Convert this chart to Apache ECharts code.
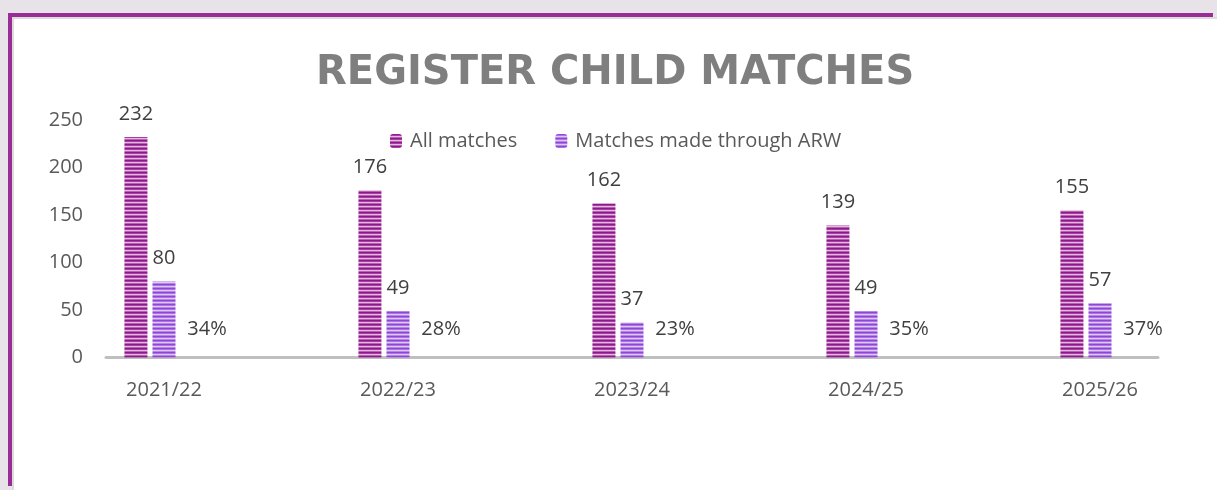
<!DOCTYPE html>
<html>
<head>
<meta charset="utf-8">
<script src="https://cdn.jsdelivr.net/npm/echarts@6/dist/echarts.min.js"></script>
<style>
  html, body { margin: 0; padding: 0; width: 1217px; height: 490px; overflow: hidden; background: #e8e3e9; }
  #frame { position: absolute; left: 8px; top: 13px; width: 1205px; height: 473px; background: #982d98; }
  #inner { position: absolute; left: 12px; top: 17px; width: 1205px; height: 473px; background: #ffffff; border-top: 2px solid #dcdcdc; border-left: 2px solid #dcdcdc; box-sizing: border-box; }
  #chart { position: absolute; left: 0; top: 0; width: 1217px; height: 490px; }
</style>
</head>
<body>
<div id="frame"></div>
<div id="inner"></div>
<div id="chart"></div>
<script>
const categories = ['2021/22', '2022/23', '2023/24', '2024/25', '2025/26'];
const allMatches = [232, 176, 162, 139, 155];
const arwMatches = [80, 49, 37, 49, 57];
const arwPercent = [34, 28, 23, 35, 37];
const yTicks = [0, 50, 100, 150, 200, 250];
const seriesNames = ['All matches', 'Matches made through ARW'];

function stripes(rows) {
  const c = document.createElement('canvas');
  c.width = 4; c.height = rows.length;
  const g = c.getContext('2d');
  rows.forEach((col, i) => { g.fillStyle = col; g.fillRect(0, i, 4, 1); });
  return c;
}
const magentaPattern = { image: stripes(['#8a1b8a', '#a73ea3', '#e4b9e0', '#b861b2']), repeat: 'repeat' };
const violetPattern = { image: stripes(['#8f47d3', '#aa74e4', '#dfc8f6', '#b586ea']), repeat: 'repeat' };

const FONT = 'Open Sans';
const yMax = yTicks[yTicks.length - 1];

const chart = echarts.init(document.getElementById('chart'), null, { renderer: 'canvas' });
chart.setOption({
  backgroundColor: 'transparent',
  animation: false,
  textStyle: { fontFamily: FONT },
  title: {
    text: 'REGISTER CHILD MATCHES',
    left: 311,
    top: 49,
    textStyle: { fontFamily: 'DejaVu Sans', fontWeight: 'bold', fontSize: 40, color: '#7f7f7f' }
  },
  legend: {
    data: seriesNames,
    left: 385,
    top: 126,
    itemWidth: 12,
    itemHeight: 14,
    itemGap: 38,
    textStyle: { fontFamily: FONT, fontSize: 20, color: '#595959', padding: [0, 0, 0, 3] }
  },
  grid: [
    { left: 47, right: 0, top: 120, bottom: 132.5 },
    { left: 106, right: 59, top: 120, bottom: 132.5 }
  ],
  xAxis: [
    {
      type: 'category', gridIndex: 0, data: categories,
      axisLine: { show: false }, axisTick: { show: false },
      axisLabel: { fontFamily: FONT, fontSize: 20, color: '#595959', margin: 23 }
    },
    {
      type: 'value', gridIndex: 1, min: 0, max: 1,
      axisLine: { show: true, onZero: false, lineStyle: { color: '#bfbfbf', width: 3 } },
      axisTick: { show: false }, axisLabel: { show: false }, splitLine: { show: false }
    }
  ],
  yAxis: [
    { type: 'value', gridIndex: 0, min: 0, max: yMax, interval: 50, show: false },
    {
      type: 'value', gridIndex: 1, min: 0, max: yMax, interval: 50,
      axisLine: { show: false }, axisTick: { show: false }, splitLine: { show: false },
      axisLabel: { fontFamily: FONT, fontSize: 20, color: '#595959', margin: 23 }
    },
    { type: 'value', gridIndex: 0, min: 0, max: 100000, show: false }
  ],
  series: [
    {
      name: seriesNames[0], type: 'bar', xAxisIndex: 0, yAxisIndex: 0,
      data: allMatches, barWidth: 23, barGap: '22%',
      itemStyle: { color: magentaPattern },
      label: { show: true, position: 'top', distance: 13, fontFamily: FONT, fontSize: 20, color: '#404040' }
    },
    {
      name: seriesNames[1], type: 'bar', xAxisIndex: 0, yAxisIndex: 0,
      data: arwMatches, barWidth: 23, barGap: '22%',
      itemStyle: { color: violetPattern },
      label: { show: true, position: 'top', distance: 13, fontFamily: FONT, fontSize: 20, color: '#404040' }
    },
    {
      name: 'ARW share', type: 'bar', xAxisIndex: 0, yAxisIndex: 2,
      data: arwPercent, barWidth: 23, barGap: '22%',
      itemStyle: { color: 'rgba(0,0,0,0)' },
      label: { show: true, position: 'top', distance: 18, offset: [15, 0], formatter: '{c}%', fontFamily: FONT, fontSize: 20, color: '#404040' }
    }
  ]
});
</script>
</body>
</html>
